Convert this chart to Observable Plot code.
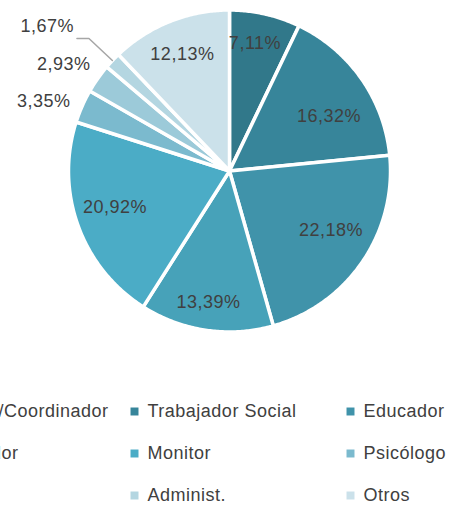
<!DOCTYPE html>
<html><head><meta charset="utf-8">
<script src="https://cdn.jsdelivr.net/npm/d3@7"></script>
<script src="https://cdn.jsdelivr.net/npm/@observablehq/plot@0.6"></script>
<style>body{margin:0;background:#fff;}</style>
</head><body><div id="chart"></div>
<script>
// Data
const categories = ["Director/Coordinador","Trabajador Social","Educador","Integrador","Monitor","Psicólogo","Técnico","Administ.","Otros"];
const values = [7.11,16.32,22.18,13.39,20.92,3.35,2.93,1.67,12.13];
const colors = ["#31788a","#37859a","#4093aa","#47a2b9","#4bacc6","#7bbace","#9ccad9","#b4d6e1","#cbe1ea"];
const labels = values.map(v => v.toFixed(2).replace(".", ",") + "%");

// Layout
const W = 452, H = 511, cx = 229, cy = 170.5, R = 161;
const font = "Liberation Sans, Arial, sans-serif";
const pol = (a, r) => ({x: cx + r * Math.sin(a), y: cy - r * Math.cos(a)});
// small label nudges (Excel "best fit" placement)
const nudge = [[-2,-7],[-2,16],[-1,-11],[-3,9],[2,-6],[-6,9],[-5,6],[0,-5],[-1,-2]];

const arcs = d3.pie().sort(null).value(d => d)(values);
const slicePts = [];
arcs.forEach((a, i) => {
  const cat = categories[i];
  slicePts.push({x: cx, y: cy, cat});
  const n = Math.max(2, Math.ceil((a.endAngle - a.startAngle) / 0.01));
  for (let k = 0; k <= n; k++) {
    const t = a.startAngle + (a.endAngle - a.startAngle) * k / n;
    slicePts.push({...pol(t, R), cat});
  }
});

const inner = [], outer = [], leader = [], leaderLabel = [];
arcs.forEach((a, i) => {
  const mid = (a.startAngle + a.endAngle) / 2;
  const v = values[i];
  const [dx, dy] = nudge[i];
  if (v >= 5) { const p = pol(mid, R * 0.77); inner.push({x: p.x + dx, y: p.y + dy, text: labels[i]}); }
  else if (v >= 2) { const p = pol(mid, R * 1.22); outer.push({x: p.x + dx, y: p.y + dy, text: labels[i]}); }
  else {
    const p0 = pol(mid, R * 1.0), p1 = pol(mid, R * 1.2);
    const p2 = {x: p1.x - 12, y: p1.y};
    leader.push({...p0, k: i}, {...p1, k: i}, {...p2, k: i});
    leaderLabel.push({x: p2.x - 3 + dx, y: p2.y - 7 + dy, text: labels[i]});
  }
});

const colX = [-82, 134, 350], rowY = [411, 453, 495];
const legend = categories.map((c, i) => ({cat: c, x: colX[i % 3], y: rowY[Math.floor(i / 3)]}));

const chart = Plot.plot({
  width: W, height: H, margin: 0,
  x: {domain: [0, W], range: [0, W], axis: null},
  y: {domain: [0, H], range: [0, H], axis: null},
  color: {domain: categories, range: colors},
  style: {fontFamily: font, background: "white"},
  marks: [
    Plot.line(slicePts, {x: "x", y: "y", z: "cat", fill: "cat", stroke: "white", strokeWidth: 3.5, strokeLinejoin: "round", curve: "linear-closed"}),
    Plot.text(inner, {x: "x", y: "y", text: "text", fontSize: 18, fill: "#404040", fontFamily: font}),
    Plot.text(outer, {x: "x", y: "y", text: "text", fontSize: 18, fill: "#404040", fontFamily: font}),
    Plot.line(leader, {x: "x", y: "y", z: "k", stroke: "#a6a6a6", strokeWidth: 1.5}),
    Plot.text(leaderLabel, {x: "x", y: "y", text: "text", textAnchor: "end", fontSize: 18, fill: "#404040", fontFamily: font}),
    Plot.dot(legend, {x: "x", y: "y", fill: "cat", symbol: "square", r: 4.5}),
    Plot.text(legend, {x: d => d.x + 13, y: "y", text: "cat", textAnchor: "start", fontSize: 18, fill: "#404040", fontFamily: font})
  ]
});
chart.querySelectorAll("text").forEach(t => t.style.letterSpacing = "0.5px");
document.getElementById("chart").appendChild(chart);
</script></body></html>
